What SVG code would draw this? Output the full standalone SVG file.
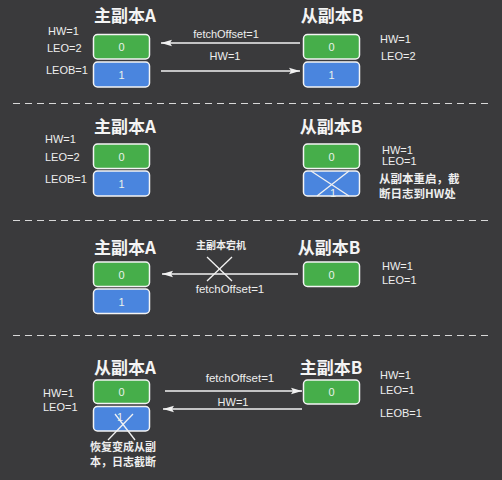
<svg xmlns="http://www.w3.org/2000/svg" width="502" height="480" viewBox="0 0 502 480">
<defs>
<marker id="ah" markerWidth="12" markerHeight="8" refX="11" refY="4" orient="auto" markerUnits="userSpaceOnUse">
<path d="M0,0.8 L11,4 L0,7.2 L2,4 Z" fill="#f2f2f2"/>
</marker>
</defs>
<style>
.bg{fill:#3a3a3c}
.t{font-family:"Noto Sans CJK SC","Liberation Sans",sans-serif;font-size:17px;font-weight:bold;fill:#f4f4f4;text-anchor:middle}
.l{font-family:"Liberation Sans","Noto Sans CJK SC",sans-serif;font-size:11px;fill:#eeeeee}
.c{font-family:"Noto Sans CJK SC","Liberation Sans",sans-serif;font-size:11.5px;fill:#eeeeee;font-weight:bold}
.n{font-family:"Liberation Sans",sans-serif;font-size:11px;fill:#eaf2ea;text-anchor:middle}
.g{fill:#46ae4a;stroke:#f4f4f4;stroke-width:1.5}
.b{fill:#4a85de;stroke:#f4f4f4;stroke-width:1.5}
.a{stroke:#f2f2f2;stroke-width:1.3;fill:none}
.x{stroke:#f2f2f2;stroke-width:1.3}
.d{stroke:#d8d8d8;stroke-width:1;stroke-dasharray:7 5}
</style>
<rect class="bg" x="0" y="0" width="502" height="480"/>

<g id="separators">
<line class="d" x1="13" y1="103.5" x2="492" y2="103.5"/>
<line class="d" x1="13" y1="220.5" x2="488" y2="220.5"/>
<line class="d" x1="13" y1="335.5" x2="488" y2="335.5"/>
</g>

<!-- Section 1 -->
<g id="s1-A">
<text class="t" x="125" y="22">主副本A</text>
<rect class="g" x="93.5" y="34.5" width="56" height="24.5" rx="4"/>
<text class="n" x="121.5" y="51">0</text>
<rect class="b" x="93.5" y="62" width="56" height="25" rx="4"/>
<text class="n" x="121.5" y="78.5">1</text>
<text class="l" x="48" y="35">HW=1</text>
<text class="l" x="47" y="52">LEO=2</text>
<text class="l" x="46" y="74">LEOB=1</text>
</g>
<g id="s1-B">
<text class="t" x="332" y="22">从副本B</text>
<rect class="g" x="303.5" y="34.5" width="56" height="24.5" rx="4"/>
<text class="n" x="331.5" y="51">0</text>
<rect class="b" x="303.5" y="62" width="56" height="25" rx="4"/>
<text class="n" x="331.5" y="78.5">1</text>
<text class="l" x="380" y="43">HW=1</text>
<text class="l" x="381" y="60">LEO=2</text>
</g>

<!-- Section 2 -->
<g id="s2-A">
<text class="t" x="125" y="133">主副本A</text>
<rect class="g" x="93.5" y="144" width="56" height="24.5" rx="4"/>
<text class="n" x="121.5" y="160.5">0</text>
<rect class="b" x="93.5" y="171" width="56" height="25" rx="4"/>
<text class="n" x="121.5" y="187.5">1</text>
<text class="l" x="45" y="143">HW=1</text>
<text class="l" x="45" y="161">LEO=2</text>
<text class="l" x="45" y="183">LEOB=1</text>
</g>
<g id="s2-B">
<text class="t" x="331" y="133">从副本B</text>
<rect class="g" x="303.5" y="144" width="56" height="24.5" rx="4"/>
<text class="n" x="331.5" y="160.5">0</text>
<rect class="b" x="303.5" y="171" width="56" height="25" rx="4"/>
<text class="n" x="333" y="197">1</text>
<line class="x" x1="311" y1="171" x2="349" y2="196"/>
<line class="x" x1="349" y1="171" x2="317" y2="196"/>
<text class="l" x="382" y="154">HW=1</text>
<text class="l" x="382" y="164.5">LEO=1</text>
<text class="c" x="379" y="183">从副本重启，截</text>
<text class="c" x="379" y="198">断日志到HW处</text>
</g>

<!-- Section 3 -->
<g id="s3-A">
<text class="t" x="125" y="254">主副本A</text>
<rect class="g" x="93.5" y="262" width="56" height="24.5" rx="4"/>
<text class="n" x="121.5" y="278.5">0</text>
<rect class="b" x="93.5" y="289" width="56" height="24.5" rx="4"/>
<text class="n" x="121.5" y="305.5">1</text>
</g>
<g id="s3-B">
<text class="t" x="329" y="254">从副本B</text>
<rect class="g" x="303.5" y="262" width="56" height="24.5" rx="4"/>
<text class="n" x="331.5" y="278.5">0</text>
<text class="l" x="382" y="270">HW=1</text>
<text class="l" x="382" y="284">LEO=1</text>
</g>

<!-- Section 4 -->
<g id="s4-A">
<text class="t" x="125" y="374">从副本A</text>
<rect class="g" x="93.5" y="380" width="56" height="23.5" rx="4"/>
<text class="n" x="121.5" y="396">0</text>
<rect class="b" x="93.5" y="406.5" width="56" height="24.5" rx="4"/>
<text class="n" x="120" y="421">1</text>
<line class="x" x1="115" y1="414" x2="135" y2="440"/>
<line class="x" x1="133" y1="414" x2="108" y2="440"/>
<text class="l" x="43" y="397">HW=1</text>
<text class="l" x="43" y="411">LEO=1</text>
<text class="c" x="90" y="451" style="font-size:11px">恢复变成从副</text>
<text class="c" x="90" y="466" style="font-size:11px">本，日志截断</text>
</g>
<g id="s4-B">
<text class="t" x="331" y="374">主副本B</text>
<rect class="g" x="303.5" y="380" width="56" height="24" rx="4"/>
<text class="n" x="331.5" y="396">0</text>
<text class="l" x="380" y="379">HW=1</text>
<text class="l" x="380" y="394">LEO=1</text>
<text class="l" x="380" y="417">LEOB=1</text>
</g>

<g id="connectors">
<line class="a" x1="300" y1="43" x2="161" y2="43" marker-end="url(#ah)"/>
<text class="l" x="226" y="38" text-anchor="middle">fetchOffset=1</text>
<text class="l" x="225" y="60" text-anchor="middle">HW=1</text>
<line class="a" x1="161" y1="71" x2="300" y2="71" marker-end="url(#ah)"/>

<line class="a" x1="298" y1="274" x2="162" y2="274" marker-end="url(#ah)"/>
<text class="c" x="221" y="249" text-anchor="middle" style="font-size:10px">主副本宕机</text>
<line class="x" x1="207" y1="257" x2="232" y2="281"/>
<line class="x" x1="232" y1="257" x2="207" y2="281"/>
<text class="l" x="230" y="293" text-anchor="middle" style="font-size:11.5px">fetchOffset=1</text>

<line class="a" x1="165" y1="391" x2="302" y2="391" marker-end="url(#ah)"/>
<text class="l" x="240" y="382" text-anchor="middle" style="font-size:11.5px">fetchOffset=1</text>
<text class="l" x="233" y="406" text-anchor="middle">HW=1</text>
<line class="a" x1="302" y1="409" x2="163" y2="409" marker-end="url(#ah)"/>
</g>
</svg>
